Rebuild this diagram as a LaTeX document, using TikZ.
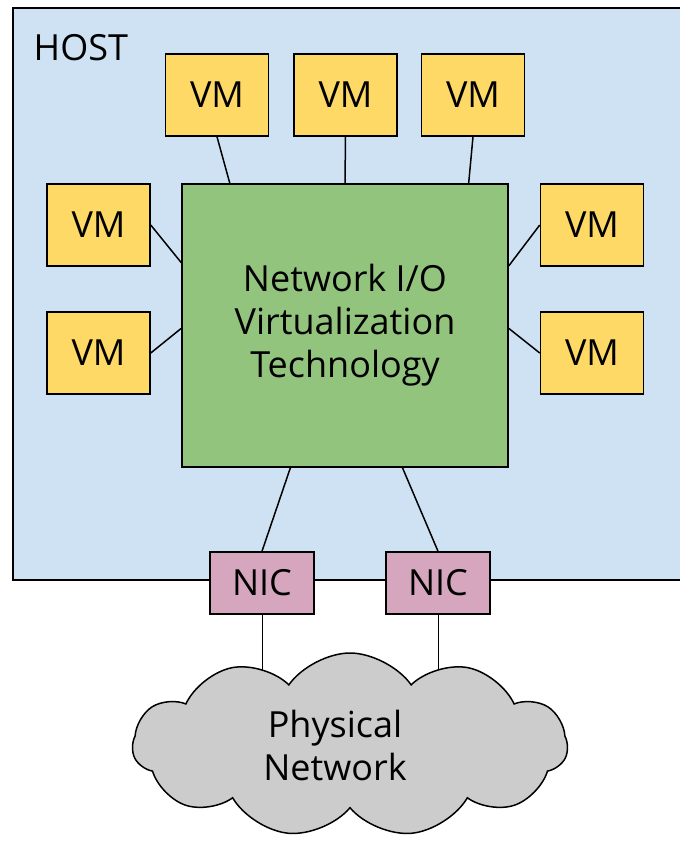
\documentclass[tikz,border=0pt]{standalone}
\usepackage{fontspec}
\setmainfont{Open Sans}
\usepackage{xcolor}
\usetikzlibrary{shapes.symbols}
\definecolor{schemaazzurro}{HTML}{CFE2F3}
\definecolor{schemagiallo}{HTML}{FFD966}
\definecolor{schemaverde}{HTML}{93C47D}
\definecolor{schemarosa}{HTML}{D5A6BD}
\definecolor{schemagrigio}{HTML}{CCCCCC}
\pgfdeclarelayer{sotto}
\pgfsetlayers{sotto,main}

\begin{document}
\begin{tikzpicture}[x=1pt,y=1pt, line width=1.5pt,
  testo/.style={font=\fontsize{36}{43}\selectfont, align=center, inner sep=0pt},
  vmbox/.style={testo, draw, fill=schemagiallo, minimum width=103, minimum height=82},
  nicbox/.style={testo, draw, fill=schemarosa, minimum width=104, minimum height=62}]

  % ---- Pagina (origine in alto a sinistra) ----------------------------------
  \clip (0,0) rectangle (680,-847);

  % ---- Host, sfondo azzurro -------------------------------------------------
  \node[draw, fill=schemaazzurro, minimum width=680, minimum height=572, inner sep=0pt]
    (host) at (353,-294) {};
  \node[testo, anchor=west] (etichetta) at (33,-48) {HOST};

  % ---- Blocco centrale --------------------------------------------------------
  \node[testo, draw, fill=schemaverde, minimum width=326, minimum height=283]
    (nucleo) at (345,-325.5) {Network I/O\\Virtualization\\Technology};

  % ---- Macchine virtuali ------------------------------------------------------
  \node[vmbox] (vmalto1) at (217,-95) {VM};
  \node[vmbox] (vmalto2) at (345.5,-95) {VM};
  \node[vmbox] (vmalto3) at (473,-95) {VM};
  \node[vmbox] (vmsx1) at (98.5,-225) {VM};
  \node[vmbox] (vmsx2) at (98.5,-353) {VM};
  \node[vmbox] (vmdx1) at (592,-225) {VM};
  \node[vmbox] (vmdx2) at (592,-353) {VM};

  \draw (vmalto1.south) -- (nucleo.129.3);
  \draw (vmalto2.south) -- (nucleo.north);
  \draw (vmalto3.south) -- (nucleo.49.2);
  \draw (vmsx1.east) -- (nucleo.159.6);
  \draw (vmsx2.east) -- (nucleo.181);
  \draw (vmdx1.west) -- (nucleo.20.4);
  \draw (vmdx2.west) -- (nucleo.-1);

  % ---- Schede di rete, a cavallo del bordo --------------------------------
  \node[nicbox] (nic1) at (262,-583) {NIC};
  \node[nicbox] (nic2) at (438,-583) {NIC};

  \draw (nucleo.249.5) -- (nic1.north);
  \draw (nucleo.292.3) -- (nic2.north);

  % ---- Rete fisica ------------------------------------------------------------
  % il testo sta un po' a sinistra del centro della nuvola
  \node[testo, draw, fill=schemagrigio, cloud, cloud puffs=11, cloud puff arc=110,
    aspect=2.4, minimum width=435, minimum height=184]
    (rete) at (350,-745) {Physical\hspace*{30pt}\\Network\hspace*{30pt}};

  % le linee passano sotto la nuvola
  \begin{pgfonlayer}{sotto}
    \draw (nic1.south) -- (nic1.south |- rete.center);
    \draw (nic2.south) -- (nic2.south |- rete.center);
  \end{pgfonlayer}

\end{tikzpicture}
\end{document}
